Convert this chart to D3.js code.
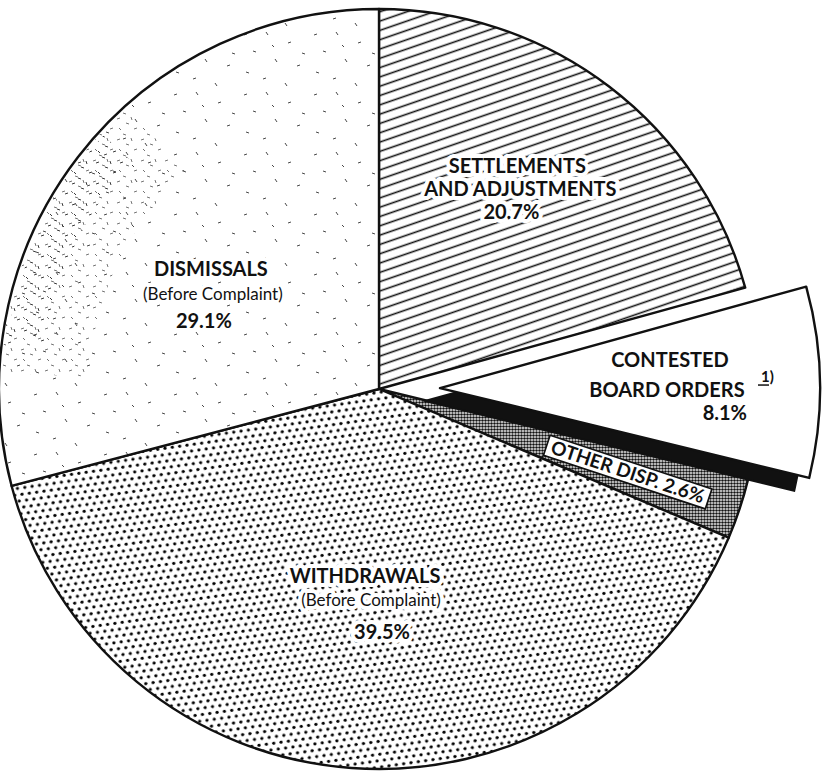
<!DOCTYPE html>
<html>
<head>
<meta charset="utf-8">
<script src="https://cdn.jsdelivr.net/npm/d3@7"></script>
<style>
html, body { margin: 0; padding: 0; background: #fff; }
svg { display: block; }
text { font-family: Lato, "Noto Sans", sans-serif; fill: #111; }
</style>
</head>
<body>
<svg width="822" height="773"></svg>
<script>
// cases closed, by method of closing (percent)
var categories = ['SETTLEMENTS AND ADJUSTMENTS', 'CONTESTED BOARD ORDERS', 'OTHER DISP.', 'WITHDRAWALS', 'DISMISSALS'];
var shares = [20.7, 8.1, 2.6, 39.5, 29.1];
var labelLines = [
	['SETTLEMENTS', 'AND ADJUSTMENTS'],
	['CONTESTED', 'BOARD ORDERS'],
	['OTHER DISP.'],
	['WITHDRAWALS', '(Before Complaint)'],
	['DISMISSALS', '(Before Complaint)']
];
var pctLabels = ['20.7%', '8.1%', '2.6%', '39.5%', '29.1%'];
var footnote = '1)';

var cx = 379, cy = 389, r = 380;
var explode = 61;         // contested slice pulled out
var depth = [-15, 13];    // black side of the pulled slice

var svg = d3.select('svg');
var defs = svg.append('defs');

// hatching for settlements
var p = defs.append('pattern').attr('id', 'hatch').attr('patternUnits', 'userSpaceOnUse')
	.attr('width', 12).attr('height', 8.8).attr('patternTransform', 'rotate(-19)');
p.append('rect').attr('width', 12).attr('height', 8.8).attr('fill', '#fff');
p.append('line').attr('x1', 0).attr('x2', 12).attr('y1', 4.4).attr('y2', 4.4)
	.attr('stroke', '#111').attr('stroke-width', 1.6);

// dot screen for withdrawals
p = defs.append('pattern').attr('id', 'dots').attr('patternUnits', 'userSpaceOnUse')
	.attr('width', 7.4).attr('height', 12.8).attr('patternTransform', 'rotate(-8)');
p.append('rect').attr('width', 7.4).attr('height', 12.8).attr('fill', '#fff');
p.append('circle').attr('cx', 1.85).attr('cy', 3.2).attr('r', 1.6).attr('fill', '#000');
p.append('circle').attr('cx', 5.55).attr('cy', 9.6).attr('r', 1.6).attr('fill', '#000');

// fine stipple for other dispositions
p = defs.append('pattern').attr('id', 'stipple').attr('patternUnits', 'userSpaceOnUse')
	.attr('width', 3).attr('height', 3);
p.append('rect').attr('width', 3).attr('height', 3).attr('fill', '#fff');
p.append('circle').attr('cx', 1.5).attr('cy', 1.5).attr('r', 1.3).attr('fill', '#111');

// sparse flecks for dismissals
var flecks = [[5,6,8,5],[27,3,29,6],[49,14,52,13],[14,22,17,23],[36,30,38,33],[58,37,61,36],
	[7,43,10,44],[24,50,27,49],[46,54,48,57],[63,24,66,25],[33,16,35,18]];
p = defs.append('pattern').attr('id', 'flecks').attr('patternUnits', 'userSpaceOnUse')
	.attr('width', 70).attr('height', 60);
p.append('rect').attr('width', 70).attr('height', 60).attr('fill', '#fff');
p.selectAll('line').data(flecks).enter().append('line')
	.attr('x1', function(d){ return d[0]; }).attr('y1', function(d){ return d[1]; })
	.attr('x2', function(d){ return d[2]; }).attr('y2', function(d){ return d[3]; })
	.attr('stroke', '#333').attr('stroke-width', 0.9);

var dense = [[2,3,5,2],[11,7,14,8],[4,12,6,14],[16,1,17,4],[19,13,22,12],[8,18,11,19]];
p = defs.append('pattern').attr('id', 'flecksDense').attr('patternUnits', 'userSpaceOnUse')
	.attr('width', 24).attr('height', 21);
p.selectAll('line').data(dense).enter().append('line')
	.attr('x1', function(d){ return d[0]; }).attr('y1', function(d){ return d[1]; })
	.attr('x2', function(d){ return d[2]; }).attr('y2', function(d){ return d[3]; })
	.attr('stroke', '#222').attr('stroke-width', 0.9);

var fills = ['url(#hatch)', '#fff', 'url(#stipple)', 'url(#dots)', 'url(#flecks)'];

var g = svg.append('g').attr('transform', 'translate(' + cx + ',' + cy + ')');

var pie = d3.pie().sort(null).value(function(d){ return d; });
var arcs = pie(shares);
var arc = d3.arc().innerRadius(0).outerRadius(r);

var mid = function(a){ return (a.startAngle + a.endAngle) / 2; };
var polar = function(ang, rad){ return [Math.sin(ang) * rad, -Math.cos(ang) * rad]; };

// slices that stay in place
g.selectAll('path.slice')
	.data(arcs.filter(function(d){ return d.index != 1; }))
	.enter()
	.append('path')
	.attr('class', 'slice')
	.attr('d', arc)
	.attr('fill', function(d){ return fills[d.index]; })
	.attr('stroke', '#111')
	.attr('stroke-width', 2.4)
	.attr('stroke-linejoin', 'round');

// heavier flecks along the rim of dismissals
var dis = arcs[4];
g.append('path')
	.attr('d', d3.arc().innerRadius(r - 90).outerRadius(r - 2)
		.startAngle(dis.startAngle + 0.3).endAngle(dis.startAngle + 1.1)())
	.attr('fill', 'url(#flecksDense)')
	.attr('opacity', 0.7);
g.append('path')
	.attr('d', d3.arc().innerRadius(r - 40).outerRadius(r - 2)
		.startAngle(dis.startAngle + 0.4).endAngle(dis.startAngle + 1.0)())
	.attr('fill', 'url(#flecksDense)')
	.attr('transform', 'translate(3,2)');

// pulled out slice: black side, then white face
var con = arcs[1];
var off = polar(mid(con), explode);
g.append('path')
	.attr('d', arc(con))
	.attr('transform', 'translate(' + (off[0] + depth[0]) + ',' + (off[1] + depth[1]) + ')')
	.attr('fill', '#111')
	.attr('stroke', '#111')
	.attr('stroke-width', 2);
g.append('path')
	.attr('d', arc(con))
	.attr('transform', 'translate(' + off[0] + ',' + off[1] + ')')
	.attr('fill', '#fff')
	.attr('stroke', '#111')
	.attr('stroke-width', 2.4)
	.attr('stroke-linejoin', 'round');

// label placement: radius factor, angle nudge (deg), rows [dx, dy, size, weight, anchor]
var layout = [
	{k: 0.637, da: -2.4, rows: [[0, -17, 20, 700], [3, 6, 20, 700], [-6, 29, 20, 700]]},
	{k: 0.6, da: 0.9, rows: [[2, -21, 20, 700], [-1, 9, 20, 700], [79, 32, 20, 700, 'end']]},
	{k: 0.69, da: 0},
	{k: 0.58, da: -1.8, rows: [[-5, -26, 20, 700], [1, -3, 17, 400], [12, 30, 20, 700]]},
	{k: 0.503, da: -9.2, rows: [[0, -22, 20, 700], [2, 2, 17, 400], [-7, 30, 20, 700]]}
];

arcs.forEach(function(a){
	var L = layout[a.index];
	if(!L.rows) return;
	var pos = polar(mid(a) + L.da * Math.PI / 180, L.k * r);
	if(a.index == 1){ pos[0] += off[0]; pos[1] += off[1]; }
	var texts = labelLines[a.index].concat([pctLabels[a.index]]);
	texts.forEach(function(t, j){
		var row = L.rows[j];
		g.append('text')
			.attr('x', pos[0] + row[0])
			.attr('y', pos[1] + row[1])
			.attr('text-anchor', row[4] || 'middle')
			.attr('font-size', row[2])
			.attr('font-weight', row[3])
			.attr('stroke', '#fff')
			.attr('stroke-width', 8)
			.attr('stroke-linejoin', 'round')
			.attr('paint-order', 'stroke')
			.text(t);
	});
	if(a.index == 1){
		g.append('text')
			.attr('x', pos[0] + 93)
			.attr('y', pos[1] - 6)
			.attr('font-size', 15)
			.attr('font-weight', 700)
			.text(footnote);
		g.append('line')
			.attr('x1', pos[0] + 90).attr('x2', pos[0] + 101)
			.attr('y1', pos[1] - 3).attr('y2', pos[1] - 3)
			.attr('stroke', '#111').attr('stroke-width', 1.5);
	}
});

// boxed label inside the thin slice
var oth = arcs[2];
var op = polar(mid(oth), layout[2].k * r);
var ob = g.append('g')
	.attr('transform', 'translate(' + op[0] + ',' + op[1] + ') rotate(' + (mid(oth) * 180 / Math.PI - 90) + ')');
var otxt = ob.append('text')
	.attr('text-anchor', 'middle')
	.attr('y', 7)
	.attr('font-size', 19)
	.attr('font-weight', 700)
	.text(labelLines[2][0] + ' ' + pctLabels[2]);
var tw = otxt.node().getComputedTextLength();
ob.insert('rect', 'text')
	.attr('x', -tw / 2 - 5).attr('y', -10)
	.attr('width', tw + 10).attr('height', 21)
	.attr('fill', '#fff')
	.attr('stroke', '#111')
	.attr('stroke-width', 1.6);
</script>
</body>
</html>
